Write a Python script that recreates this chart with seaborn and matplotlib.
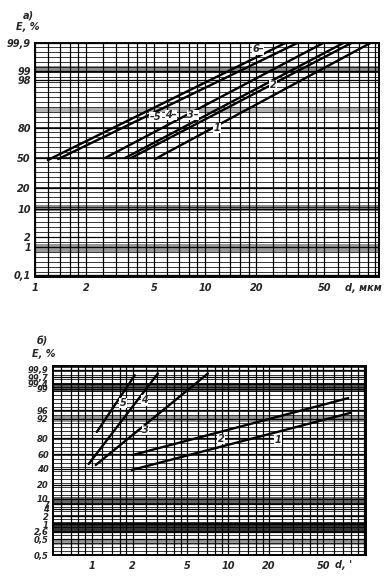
import numpy as np
import pandas as pd
import matplotlib
matplotlib.use("Agg")
import matplotlib.pyplot as plt
import matplotlib.ticker as mticker
import seaborn as sns

# --- panel a): particle size, d in um ---
top_curve = ["1", "2", "3", "4", "5", "6"]
top_d_start = [5.08, 3.67, 3.38, 2.58, 1.37, 1.19]
top_d_end = [93.5, 72.3, 64.8, 49.4, 34.8, 29.6]
top_e_start = [49, 50, 50, 50, 49, 48]
top_e_end = [99.9, 99.9, 99.9, 99.9, 99.9, 99.9]

top_yticks = [0.1, 1, 2, 10, 20, 50, 80, 98, 99, 99.9]
top_ylabels = ["0,1", "1", "2", "10", "20", "50", "80", "98", "99", "99,9"]
top_xticks = [1, 2, 5, 10, 20, 50]
top_xlabels = ["1", "2", "5", "10", "20", "50"]

# curve labels (text, d, E)
top_tags = ["1", "2", "3–", "4–", "–5", "6–"]
top_tag_d = [11.7, 25.1, 8.5, 6.3, 5.1, 20.5]
top_tag_e = [80, 96.1, 84.9, 84.9, 84.1, 99.7]

# --- panel б) ---
bot_curve = ["1", "2", "3", "4", "5"]
bot_d_start = [1.97, 2.0, 1.07, 0.95, 1.09]
bot_d_end = [78.9, 76.3, 7.13, 3.06, 2.07]
bot_e_start = [38.8, 58.7, 45.3, 46.7, 83.8]
bot_e_end = [94.7, 97.7, 99.8, 99.8, 99.75]

bot_yticks = [0.1, 0.3, 0.6, 1, 2, 4, 7, 10, 20, 40, 60, 80, 92, 96, 99, 99.4, 99.7, 99.9]
bot_ylabels = ["0,5", "0,5", "2,6", "1", "2", "4", "7", "10", "20", "40", "60", "80",
               "92", "96", "99", "99,4", "99,7", "99,9"]
bot_xticks = [1, 2, 5, 10, 20, 50]
bot_xlabels = ["1", "2", "5", "10", "20", "50"]

bot_tags = ["1", "2", "3", "4", "5"]
bot_tag_d = [23.3, 8.9, 2.49, 2.45, 1.69]
bot_tag_e = [77.5, 78.8, 85, 97.4, 97]

# probability-paper scale anchors (E -> position on the printed paper)
top_anchor_e = [0.01, 0.1, 1, 2, 10, 20, 50, 80, 98, 99, 99.9, 99.99]
top_anchor_p = [-30, 2, 30, 40, 68, 89, 119, 149, 197, 206, 234, 260]
bot_anchor_e = [0.01, 0.1, 0.3, 0.6, 1, 2, 4, 7, 10, 20, 40, 60, 80, 92, 96, 99, 99.4, 99.7, 99.9, 99.95, 99.99]
bot_anchor_p = [-20, 0, 16, 23, 31, 39, 46, 51, 56, 70, 86, 101, 117, 136, 145, 166, 171, 178, 185, 189, 210]

grid_d = [0.6, 0.7, 0.8, 0.9, 1, 1.2, 1.4, 1.6, 1.8, 2, 2.5, 3, 3.5, 4, 4.5, 5, 6, 7, 8, 9,
          10, 12, 14, 16, 18, 20, 25, 30, 35, 40, 45, 50, 60, 70, 80, 90, 100]

sns.set_theme(style="white")
plt.rcParams["font.family"] = ["DejaVu Sans"]

font = dict(fontsize=7, fontstyle="italic", fontweight="bold")
small = dict(fontsize=6, fontstyle="italic", fontweight="bold")


def prob_scale(ax, ae, ap):
    ae = np.asarray(ae, float)
    ap = np.asarray(ap, float)
    fwd = lambda v: np.interp(v, ae, ap)
    inv = lambda p: np.interp(p, ap, ae)
    ax.set_yscale("function", functions=(fwd, inv))
    return fwd, inv


def draw_panel(ax, curves, d0, d1, e0, e1, ae, ap, p_top, xlim, bands,
               yticks, ylabels, xticks, xlabels, step, yfont):
    fwd, inv = prob_scale(ax, ae, ap)
    ax.set_xscale("log")

    # paper grid
    for lo, hi, c in bands:
        ax.axhspan(lo, hi, color=c, lw=0, zorder=0)
    ax.set_yticks(inv(np.arange(0, p_top, step)), minor=True)
    ax.set_xticks([g for g in grid_d if xlim[0] < g < xlim[1]], minor=True)
    ax.grid(which="minor", axis="y", color="black", lw=0.55)
    ax.grid(which="minor", axis="x", color="black", lw=0.9)
    ax.grid(which="major", color="black", lw=0.9)

    df = pd.DataFrame({
        "curve": list(curves) * 2,
        "d": list(d0) + list(d1),
        "E": list(e0) + list(e1),
    })
    sns.lineplot(data=df, x="d", y="E", units="curve", estimator=None,
                 color="black", lw=1.7, ax=ax, zorder=5)

    ax.set_xlim(*xlim)
    ax.set_ylim(inv(0), inv(p_top))
    ax.set_yticks(yticks)
    ax.set_yticklabels(ylabels, **yfont)
    ax.set_xticks(xticks)
    ax.set_xticklabels(xlabels, **font)
    ax.xaxis.set_minor_formatter(mticker.NullFormatter())
    ax.yaxis.set_minor_formatter(mticker.NullFormatter())
    ax.tick_params(which="both", length=0, pad=3)
    ax.tick_params(axis="x", pad=4)
    ax.set_xlabel("")
    ax.set_ylabel("")
    for s in ax.spines.values():
        s.set_color("black")
        s.set_linewidth(1.4)


fig = plt.figure(figsize=(3.9, 5.78), dpi=100)
ax1 = fig.add_axes([35 / 390, 1 - 277 / 578, 344 / 390, 234 / 578])
ax2 = fig.add_axes([53 / 390, 1 - 555 / 578, 313 / 390, 189 / 578])

draw_panel(ax1, top_curve, top_d_start, top_d_end, top_e_start, top_e_end,
           top_anchor_e, top_anchor_p, 234, (1, 105),
           [(98.8, 99.15, "0.55"), (86, 87.5, "0.7"), (9.4, 11.9, "0.55"), (0.84, 1.3, "0.6")],
           top_yticks, top_ylabels, top_xticks, top_xlabels, 5, font)

draw_panel(ax2, bot_curve, bot_d_start, bot_d_end, bot_e_start, bot_e_end,
           bot_anchor_e, bot_anchor_p, 189, (0.52, 103),
           [(98.6, 99.45, "0.35"), (90.1, 93.3, "0.6"), (6.4, 11.4, "0.4"),
            (0.6, 1.25, "0.2"), (0.22, 0.32, "0.6")],
           bot_yticks, bot_ylabels, bot_xticks, bot_xlabels, 4, small)

for t, d, e in zip(top_tags, top_tag_d, top_tag_e):
    ax1.text(d, e, t, ha="center", va="center", zorder=6,
             bbox=dict(fc="white", ec="none", pad=0.3), **font)
for t, d, e in zip(bot_tags, bot_tag_d, bot_tag_e):
    ax2.text(d, e, t, ha="center", va="center", zorder=6,
             bbox=dict(fc="white", ec="none", pad=0.3), **font)

ax1.text(0.955, -0.025, "d, мкм", transform=ax1.transAxes, ha="center", va="top", **font)
ax2.text(0.927, -0.025, "d, '", transform=ax2.transAxes, ha="center", va="top", **font)

fig.text(28 / 390, 1 - 15 / 578, "а)", ha="center", va="center", **font)
fig.text(28 / 390, 1 - 27 / 578, "E, %", ha="center", va="center", **font)
fig.text(42 / 390, 1 - 342 / 578, "б)", ha="center", va="center", **font)
fig.text(44 / 390, 1 - 354 / 578, "E, %", ha="center", va="center", **font)

fig.savefig("out.png", dpi=100, facecolor="white")
